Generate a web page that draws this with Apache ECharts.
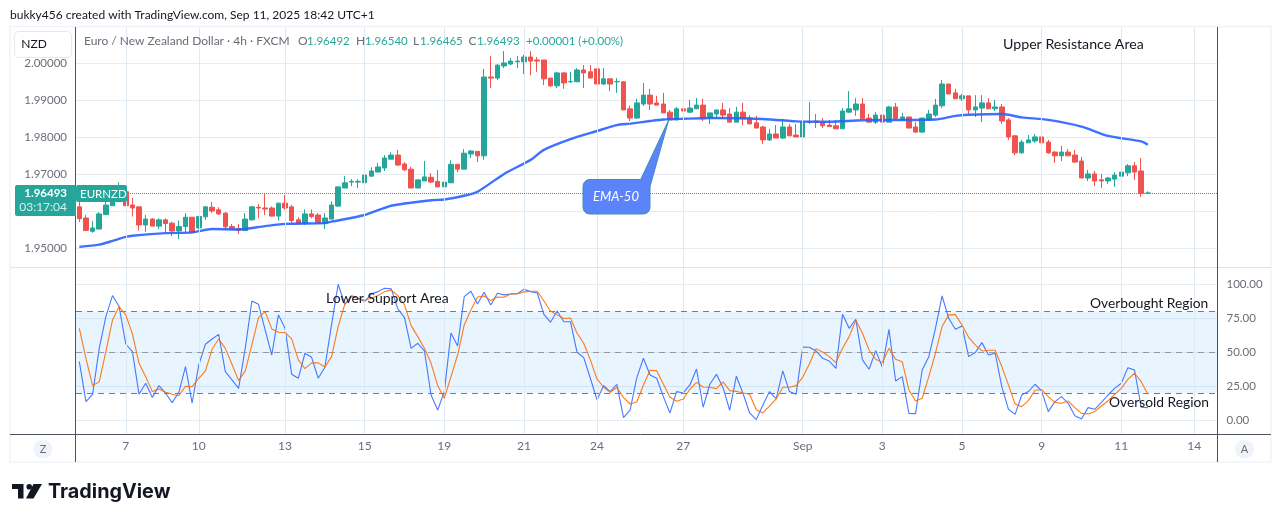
<!DOCTYPE html>
<html><head><meta charset="utf-8">
<style>html,body{margin:0;padding:0;background:#fff}#c{width:1281px;height:522px}</style>
<script src="https://cdn.jsdelivr.net/npm/echarts@6/dist/echarts.min.js"></script>
</head><body><div id="c"></div>
<script>
const opens=[1.9612,1.9582,1.9546,1.9552,1.9591,1.9615,1.9626,1.9653,1.9617,1.9612,
1.9563,1.9579,1.9560,1.9577,1.9568,1.9547,1.9559,1.9584,1.9555,1.9585,
1.9611,1.9604,1.9595,1.9559,1.9554,1.9548,1.9577,1.9611,1.9609,1.9609,
1.9587,1.9622,1.9612,1.9577,1.9567,1.9593,1.9590,1.9568,1.9579,1.9614,
1.9663,1.9679,1.9679,1.9677,1.9695,1.9706,1.9717,1.9741,1.9752,1.9728,
1.9714,1.9663,1.9682,1.9692,1.9681,1.9666,1.9677,1.9727,1.9714,1.9755,
1.9762,1.9750,1.9963,1.9960,1.9993,1.9998,2.0004,2.0004,2.0017,2.0009,
2.0009,1.9960,1.9939,1.9974,1.9950,1.9950,1.9982,1.9977,1.9985,1.9944,
1.9958,1.9950,1.9950,1.9877,1.9852,1.9890,1.9914,1.9893,1.9890,1.9868,
1.9847,1.9877,1.9868,1.9877,1.9887,1.9852,1.9863,1.9874,1.9863,1.9841,
1.9868,1.9852,1.9839,1.9828,1.9793,1.9809,1.9798,1.9828,1.9806,1.9801,
1.9841,1.9844,1.9841,1.9833,1.9831,1.9823,1.9868,1.9874,1.9890,1.9852,
1.9841,1.9860,1.9841,1.9882,1.9847,1.9855,1.9828,1.9814,1.9847,1.9860,
1.9885,1.9944,1.9920,1.9904,1.9912,1.9874,1.9879,1.9893,1.9877,1.9882,
1.9847,1.9804,1.9758,1.9785,1.9790,1.9801,1.9787,1.9760,1.9750,1.9760,
1.9752,1.9736,1.9690,1.9701,1.9685,1.9682,1.9687,1.9695,1.9704,1.9723,
1.9709,1.96492];
const closes=[1.9580,1.9548,1.9555,1.9593,1.9617,1.9635,1.9649,1.9615,1.9609,1.9563,
1.9579,1.9560,1.9577,1.9567,1.9547,1.9559,1.9584,1.9542,1.9586,1.9612,
1.9601,1.9593,1.9558,1.9551,1.9548,1.9579,1.9612,1.9609,1.9606,1.9587,
1.9622,1.9609,1.9575,1.9567,1.9593,1.9586,1.9568,1.9582,1.9617,1.9666,
1.9677,1.9681,1.9681,1.9698,1.9709,1.9720,1.9744,1.9752,1.9725,1.9712,
1.9663,1.9685,1.9693,1.9679,1.9666,1.9679,1.9727,1.9714,1.9757,1.9763,
1.9750,1.9963,1.9960,1.9995,2.0001,2.0006,2.0006,2.0017,2.0006,2.0006,
1.9958,1.9939,1.9974,1.9947,1.9951,1.9982,1.9974,1.9960,1.9944,1.9958,
1.9944,1.9951,1.9874,1.9852,1.9893,1.9914,1.9890,1.9887,1.9866,1.9847,
1.9877,1.9871,1.9879,1.9887,1.9850,1.9866,1.9874,1.9860,1.9841,1.9868,
1.9850,1.9836,1.9825,1.9793,1.9809,1.9798,1.9828,1.9804,1.9801,1.9841,
1.9843,1.9841,1.9831,1.9829,1.9823,1.9871,1.9877,1.9890,1.9850,1.9841,
1.9860,1.9841,1.9882,1.9850,1.9855,1.9825,1.9814,1.9852,1.9863,1.9887,
1.9944,1.9917,1.9904,1.9912,1.9874,1.9882,1.9893,1.9877,1.9882,1.9844,
1.9801,1.9758,1.9787,1.9793,1.9801,1.9785,1.9758,1.9750,1.9760,1.9750,
1.9733,1.9690,1.9701,1.9682,1.9682,1.9690,1.9698,1.9706,1.9723,1.9706,
1.9648,1.96493];
const lows=[1.9571,1.9548,1.9542,1.9552,1.9591,1.9615,1.9626,1.9615,1.9586,1.9548,
1.9545,1.9560,1.9552,1.9543,1.9533,1.9525,1.9541,1.9541,1.9552,1.9577,
1.9596,1.9590,1.9550,1.9550,1.9539,1.9548,1.9574,1.9581,1.9590,1.9587,
1.9575,1.9604,1.9563,1.9563,1.9563,1.9581,1.9568,1.9552,1.9579,1.9614,
1.9663,1.9668,1.9663,1.9671,1.9695,1.9706,1.9709,1.9741,1.9723,1.9709,
1.9663,1.9663,1.9682,1.9676,1.9666,1.9655,1.9677,1.9706,1.9714,1.9744,
1.9733,1.9739,1.9933,1.9955,1.9987,1.9995,1.9987,1.9971,1.9968,1.9977,
1.9941,1.9936,1.9933,1.9931,1.9947,1.9950,1.9933,1.9960,1.9944,1.9941,
1.9925,1.9920,1.9874,1.9844,1.9850,1.9885,1.9874,1.9887,1.9866,1.9847,
1.9847,1.9852,1.9866,1.9877,1.9844,1.9836,1.9852,1.9850,1.9841,1.9841,
1.9833,1.9836,1.9825,1.9782,1.9790,1.9798,1.9795,1.9804,1.9801,1.9795,
1.9836,1.9825,1.9825,1.9828,1.9823,1.9823,1.9866,1.9858,1.9847,1.9841,
1.9836,1.9836,1.9841,1.9847,1.9847,1.9825,1.9812,1.9812,1.9847,1.9855,
1.9879,1.9917,1.9904,1.9898,1.9863,1.9855,1.9841,1.9877,1.9871,1.9836,
1.9793,1.9752,1.9755,1.9785,1.9785,1.9785,1.9755,1.9731,1.9736,1.9750,
1.9731,1.9690,1.9682,1.9668,1.9663,1.9674,1.9666,1.9677,1.9695,1.9685,
1.9639,1.96465];
const highs=[1.9626,1.9590,1.9574,1.9598,1.9631,1.9658,1.9678,1.9667,1.9636,1.9612,
1.9590,1.9581,1.9581,1.9581,1.9572,1.9575,1.9595,1.9584,1.9586,1.9614,
1.9625,1.9611,1.9598,1.9566,1.9566,1.9595,1.9614,1.9620,1.9647,1.9613,
1.9623,1.9644,1.9617,1.9584,1.9605,1.9605,1.9595,1.9595,1.9627,1.9666,
1.9695,1.9687,1.9687,1.9719,1.9719,1.9731,1.9752,1.9760,1.9766,1.9733,
1.9720,1.9685,1.9736,1.9703,1.9712,1.9685,1.9738,1.9727,1.9768,1.9766,
1.9762,1.9985,2.0020,1.9998,2.0033,2.0014,2.0020,2.0023,2.0033,2.0017,
2.0009,1.9960,1.9977,1.9977,1.9977,1.9987,1.9995,1.9995,1.9985,1.9987,
1.9958,1.9960,1.9952,1.9885,1.9904,1.9947,1.9931,1.9912,1.9920,1.9874,
1.9882,1.9890,1.9901,1.9906,1.9904,1.9866,1.9874,1.9893,1.9879,1.9882,
1.9893,1.9860,1.9858,1.9831,1.9823,1.9833,1.9847,1.9836,1.9836,1.9841,
1.9895,1.9863,1.9852,1.9847,1.9847,1.9879,1.9925,1.9906,1.9906,1.9863,
1.9868,1.9863,1.9885,1.9893,1.9866,1.9855,1.9841,1.9852,1.9874,1.9904,
1.9955,1.9944,1.9931,1.9917,1.9912,1.9914,1.9914,1.9906,1.9901,1.9890,
1.9852,1.9806,1.9793,1.9806,1.9809,1.9820,1.9793,1.9763,1.9777,1.9768,
1.9766,1.9747,1.9712,1.9709,1.9701,1.9693,1.9706,1.9712,1.9728,1.9733,
1.9744,1.96540];
const emaIndexes=[0,3,5,7,8,13,17,20,24,28,31,37,38,43,47,53,55,58,60,64,68,70,74,78,81,83,86,88,91,95,101,106,108,113,118,129,132,134,139,142,146,151,155,160,161];
const emaValues=[1.9504,1.9510,1.9520,1.9531,1.9534,1.9541,1.9543,1.9552,1.9551,1.9560,1.9566,1.9568,1.9572,1.9590,1.9615,1.9630,1.9632,1.9642,1.9653,1.9701,1.9739,1.9766,1.9795,1.9817,1.9833,1.9837,1.9844,1.9848,1.9850,1.9852,1.9851,1.9846,1.9843,1.9842,1.9846,1.9848,1.9858,1.9861,1.9863,1.9854,1.9847,1.9829,1.9804,1.9789,1.9780];
const rsiValues=[43.1,13.7,19.1,52.9,76.2,91.7,83.6,56.1,50.5,19.1,27.2,16.7,25.5,19.9,13.0,20.6,39.5,12.7,40.7,55.9,
59.8,63.2,35.8,29.7,23.5,52.9,87.7,85.3,66.4,48.0,77.5,67.6,33.8,30.9,49.3,46.3,30.9,39.0,70.1,100,
85.3,90.9,89.7,87.3,92.9,94.6,97.1,96.6,81.9,75.5,52.9,56.6,51.0,18.6,7.6,21.1,64.2,54.7,90.9,94.9,
85.5,94.1,84.8,93.4,92.2,92.9,93.1,96.3,94.6,93.6,77.9,72.1,80.4,72.5,72.5,50.0,46.1,30.9,15.0,25.5,
21.1,26.5,2.0,7.6,31.4,45.6,33.3,30.9,17.4,5.4,21.1,20.1,26.0,37.7,9.6,26.5,33.8,24.0,7.4,32.4,
19.9,5.4,0.5,11.3,21.1,15.7,36.3,21.1,19.1,53.9,53.7,51.0,45.6,43.6,38.2,77.9,67.6,74.3,44.4,37.5,
51.2,39.0,66.9,28.9,32.1,5.1,4.9,37.0,46.8,67.6,91.4,75.0,66.9,69.4,46.8,49.8,57.1,48.0,49.3,24.8,
8.1,4.4,18.6,21.1,26.5,21.6,6.4,13.7,17.4,12.5,3.4,1.0,9.3,8.1,13.2,18.6,23.5,27.2,38.7,37.0,9.6,9.3];
const rsiMaValues=[67.6,45.6,25.5,28.4,50.5,73.8,83.6,77.5,63.5,41.9,32.1,21.1,23.0,20.6,19.1,18.1,25.0,24.8,30.9,36.3,
52.2,59.8,52.9,41.2,29.2,36.3,55.4,75.5,79.9,67.2,64.7,64.5,59.8,44.4,38.0,42.2,42.2,39.2,46.6,68.9,
85.3,91.7,89.7,88.2,89.7,91.7,94.6,95.8,91.7,84.8,69.6,61.5,52.9,41.9,25.5,16.2,32.1,48.0,70.1,81.1,
90.7,91.4,88.0,90.7,90.4,92.9,93.1,94.4,94.9,94.9,87.7,80.4,77.5,74.8,75.2,64.0,56.6,44.4,30.4,24.3,
20.6,24.3,16.7,12.0,13.5,26.0,36.8,36.5,26.7,16.9,14.0,15.7,22.8,27.9,24.5,24.3,23.3,28.2,21.8,21.3,
20.1,19.1,7.8,5.4,10.5,15.7,24.3,24.3,25.5,31.6,41.4,52.7,50.2,46.8,42.4,52.9,61.5,73.5,64.0,51.7,
44.9,42.4,52.9,44.9,43.1,22.3,14.2,16.2,32.1,49.3,68.9,77.5,77.7,70.1,61.0,55.4,51.0,51.5,51.5,39.5,
26.0,12.0,10.0,14.5,22.1,22.5,17.4,13.2,12.5,14.2,9.3,5.1,4.7,6.4,10.5,14.2,19.1,23.5,30.1,34.6,28.4,19.1];
const tickIndexes=[7,18,31,43,55,67,78,91,109,121,133,145,157,168];
const tickLabels=['7','10','13','15','19','21','24','27','Sep','3','5','9','11','14'];
const slotCount=172;
const priceTicks=[1.95,1.96,1.97,1.98,1.99,2.00];
const rsiTicks=[0,25,50,75,100];
const lastPrice=1.96493;
const rsiBandLow=20, rsiBandHigh=80, rsiMid=50;

const FONT='Lato';
const GREEN='#26a69a',RED='#ef5350',AXIS='#50535e',TXT='#6a6d78',GRID='#e6ebf1',VG='#dfe9f2';
const categories=Array.from({length:slotCount},()=>'');
tickIndexes.forEach((ix,k)=>categories[ix]=tickLabels[k]);
const candleData=opens.map((o,i)=>[o,closes[i],lows[i],highs[i]]);
const emaData=Array.from({length:slotCount},()=>null);
emaIndexes.forEach((ix,k)=>emaData[ix]=emaValues[k]);
const verticals=tickIndexes.map(ix=>({xAxis:ix}));
const vLine={silent:true,symbol:'none',animation:false,label:{show:false},lineStyle:{color:VG,width:1,type:'solid'},data:verticals};
const t=(x,y,text,size,fill,align,extra)=>Object.assign({type:'text',x,y,z:60,silent:true,style:{text,fill,fontSize:size,fontFamily:FONT,textAlign:align||'left',textVerticalAlign:'middle'}},extra||{});
const ln=(x1,y1,x2,y2,c)=>({type:'line',z:50,silent:true,shape:{x1,y1,x2,y2},style:{stroke:c,lineWidth:1}});
const calloutOutline=[[590,179.5],[640.7,179.5],[668.7,120],[650,186.7],[650,207],[649.5,210],[648,212],[646,213.5],[643,214],[590,214],[587,213.5],[585,212],[583.5,210],[583,207],[583,186.5],[583.5,183.5],[585,181.5],[587,180],[590,179.5]];
const HG='#6a6d78',HV='#26a69a';

const chart=echarts.init(document.getElementById('c'),null,{renderer:'canvas'});
chart.setOption({
 animation:false,backgroundColor:'#fff',
 grid:[{left:76,width:1141.5,top:27,height:240},{left:76,width:1141.5,top:267,height:167}],
 xAxis:[
  {type:'category',gridIndex:0,data:categories,axisLine:{show:false},axisTick:{show:false},axisLabel:{show:false},splitLine:{show:false}},
  {type:'category',gridIndex:1,data:categories,axisLine:{show:false},axisTick:{show:false},splitLine:{show:false},
   axisLabel:{color:TXT,fontSize:12,fontFamily:FONT,margin:6,hideOverlap:false,interval:(i,v)=>v!==''}}
 ],
 yAxis:[
  {type:'value',gridIndex:0,position:'left',min:1.94495,max:2.00981,axisLine:{show:false},
   axisTick:{show:false,customValues:priceTicks},
   axisLabel:{customValues:priceTicks,color:TXT,fontSize:11.5,fontFamily:FONT,margin:9,formatter:v=>v.toFixed(5)},
   splitLine:{show:true,lineStyle:{color:GRID,width:1}}},
  {type:'value',gridIndex:1,position:'right',min:-10.07,max:112.7,axisLine:{show:false},
   axisTick:{show:false,customValues:rsiTicks},
   axisLabel:{customValues:rsiTicks,color:TXT,fontSize:11.5,fontFamily:FONT,margin:9,formatter:v=>v.toFixed(2)},
   splitLine:{show:true,lineStyle:{color:GRID,width:1}}}
 ],
 series:[
  {type:'line',name:'vTop',xAxisIndex:0,yAxisIndex:0,z:1,data:[],markLine:vLine},
  {type:'candlestick',name:'EURNZD',xAxisIndex:0,yAxisIndex:0,z:3,barWidth:5,data:candleData,
   itemStyle:{color:GREEN,color0:RED,borderColor:GREEN,borderColor0:RED,borderWidth:1},
   markLine:{silent:true,symbol:'none',animation:false,precision:5,label:{show:false},lineStyle:{color:'#22ab94',width:1,type:'dotted'},data:[{yAxis:lastPrice}]}},
  {type:'line',name:'EMA-50',xAxisIndex:0,yAxisIndex:0,z:4,data:emaData,connectNulls:true,smooth:0.25,showSymbol:false,symbol:'none',lineStyle:{color:'#2962ff',width:2.4,opacity:.9}},
  {type:'line',name:'band',xAxisIndex:1,yAxisIndex:1,z:1,data:[],markLine:vLine,
   markArea:{silent:true,animation:false,itemStyle:{color:'rgba(33,150,243,0.1)'},label:{show:false},data:[[{yAxis:rsiBandHigh},{yAxis:rsiBandLow}]]}},
  {type:'line',name:'levels',xAxisIndex:1,yAxisIndex:1,z:2,data:[],
   markLine:{silent:true,symbol:'none',animation:false,label:{show:false},lineStyle:{color:'#787b86',width:1,type:[6,5]},data:[{yAxis:rsiBandHigh},{yAxis:rsiMid,lineStyle:{color:'#9598a1'}},{yAxis:rsiBandLow}]}},
  {type:'line',name:'RSI',xAxisIndex:1,yAxisIndex:1,z:4,data:rsiValues,showSymbol:false,symbol:'none',lineStyle:{color:'#2962ff',width:1.1,opacity:.85}},
  {type:'line',name:'RSI MA',xAxisIndex:1,yAxisIndex:1,z:5,data:rsiMaValues,showSymbol:false,symbol:'none',lineStyle:{color:'#ff6d00',width:1.1,opacity:.9}}
 ],
 graphic:{elements:[
  {type:'rect',z:40,silent:true,shape:{x:10,y:26.5,width:1261,height:435.5},style:{fill:'none',stroke:'#f0f3fa',lineWidth:1.5}},
  ln(10,267.5,1271,267.5,'#e0e3eb'),
  ln(10,434.5,1271,434.5,AXIS),
  ln(75.5,27,75.5,462,AXIS),
  ln(1217.5,27,1217.5,462,AXIS),
  t(10,15,'bukky456 created with TradingView.com, Sep 11, 2025 18:42 UTC+1',12,'#131722'),
  {type:'rect',z:55,silent:true,shape:{x:14.5,y:31.5,width:57,height:26,r:4},style:{fill:'#fff',stroke:'#e6e8ee',lineWidth:1}},
  t(34,44.5,'NZD',12,'#131722','center'),
  t(84,41.5,'Euro / New Zealand Dollar · 4h · FXCM',12,HG),
  t(298,41.5,'O',12,HG),t(307,41.5,'1.96492',11.5,HV),
  t(356,41.5,'H',12,HG),t(365,41.5,'1.96540',11.5,HV),
  t(413,41.5,'L',12,HG),t(420,41.5,'1.96465',11.5,HV),
  t(468.5,41.5,'C',12,HG),t(477,41.5,'1.96493',11.5,HV),
  t(526,41.5,'+0.00001 (+0.00%)',11.5,HV),
  {type:'rect',z:55,silent:true,shape:{x:15,y:185,width:61,height:31,r:2},style:{fill:'#26a69a'}},
  {type:'rect',z:55,silent:true,shape:{x:76,y:185,width:51,height:17,r:2},style:{fill:'#26a69a'}},
  {type:'text',x:67,y:193.5,z:60,silent:true,style:{text:'1.96493',fill:'#fff',fontSize:11.5,fontWeight:'bold',fontFamily:FONT,textAlign:'right',textVerticalAlign:'middle'}},
  t(67,207.5,'03:17:04',12,'#d4efec','right'),
  t(80,194,'EURNZD',11.5,'#fff','left'),
  t(1003,44,'Upper Resistance Area',14.2,'#131722'),
  t(326,298,'Lower Support Area',14,'#131722'),
  t(1090,304,'Overbought Region',13.8,'#131722'),
  t(1109,403,'Oversold Region',13.8,'#131722'),
  {type:'polygon',z:58,silent:true,shape:{points:calloutOutline},style:{fill:'#5b84fb',stroke:'#3f8fb5',lineWidth:1}},
  {type:'text',x:616,y:196.5,z:60,silent:true,style:{text:'EMA-50',fill:'#fff',fontSize:13,fontStyle:'italic',fontFamily:FONT,textAlign:'center',textVerticalAlign:'middle'}},
  {type:'circle',z:55,silent:true,shape:{cx:43,cy:449,r:9.5},style:{fill:'#f0f3fa'}},
  t(43,449,'Z',11,'#6a6d78','center'),
  {type:'circle',z:55,silent:true,shape:{cx:1244.5,cy:449,r:9.5},style:{fill:'#f0f3fa'}},
  t(1244.5,449,'A',11,'#6a6d78','center'),
  {type:'polygon',z:55,silent:true,shape:{points:[[12,484],[23.5,484],[23.5,498.5],[18,498.5],[18,489],[12,489]]},style:{fill:'#131722'}},
  {type:'circle',z:55,silent:true,shape:{cx:29.2,cy:486.7,r:2.8},style:{fill:'#131722'}},
  {type:'polygon',z:55,silent:true,shape:{points:[[33.5,484],[42,484],[33.5,498.5],[26,498.5]]},style:{fill:'#131722'}},
  {type:'text',x:48,y:492,z:60,silent:true,style:{text:'TradingView',fill:'#131722',fontSize:19.8,fontWeight:'bold',fontFamily:'Inter',textAlign:'left',textVerticalAlign:'middle'}}
 ]}
});
</script></body></html>
